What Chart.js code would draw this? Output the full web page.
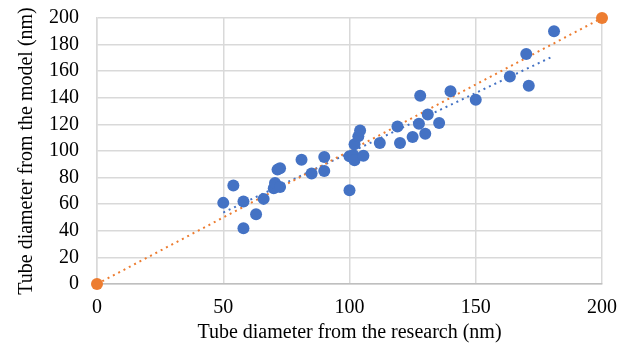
<!DOCTYPE html>
<html>
<head>
<meta charset="utf-8">
<script src="https://cdn.jsdelivr.net/npm/chart.js@4.4.1/dist/chart.umd.min.js"></script>
<style>
  html, body { margin: 0; padding: 0; background: #fff; }
  #wrap { width: 630px; height: 351px; }
</style>
</head>
<body>
<div id="wrap"><canvas id="chart"></canvas></div>
<script>
// tube diameter from the research (nm)
var researchD = [50, 54, 58, 58, 63, 66, 70, 70.5, 72.5, 71.5, 72.5, 81, 85, 90, 90,
  100, 100, 101.5, 102, 102, 103.5, 104.2, 105.5, 112, 119, 120, 125, 127.5, 128, 130,
  131, 135.5, 140, 150, 163.5, 170, 171, 181];
// tube diameter from the model (nm)
var modelD = [61, 74, 42, 62, 52.5, 64, 72, 76, 73, 86, 87, 93.5, 83, 95.5, 85,
  70.5, 96, 97, 93, 105, 111, 115.5, 96.5, 106, 118.5, 106, 110.5, 120.5, 141.5, 113,
  127.5, 121, 145, 138.5, 156, 173, 149, 190];

// reference line y = x
var refX = [0, 200];
var refY = [0, 200];

var xTicks = [0, 50, 100, 150, 200];
var yTicks = [0, 20, 40, 60, 80, 100, 120, 140, 160, 180, 200];

var blue = '#4472C4';
var orange = '#ED7D31';

// linear trendline of the measured points
function trend(xs, ys) {
    var n = xs.length, sx = 0, sy = 0, sxy = 0, sxx = 0;
    for (var i = 0; i < n; i++) {
        sx += xs[i]; sy += ys[i]; sxy += xs[i] * ys[i]; sxx += xs[i] * xs[i];
    }
    var b = (n * sxy - sx * sy) / (n * sxx - sx * sx);
    var a = (sy - b * sx) / n;
    var x0 = Math.min.apply(null, xs), x1 = Math.max.apply(null, xs);
    return [{ x: x0, y: a + b * x0 }, { x: x1, y: a + b * x1 }];
}

var points = researchD.map(function(v, i) { return { x: v, y: modelD[i] }; });
var refPoints = refX.map(function(v, i) { return { x: v, y: refY[i] }; });

var font = { family: '"Liberation Serif", "Times New Roman", serif', size: 20 };

new Chart(document.getElementById('chart'), {
    type: 'scatter',
    data: {
        datasets: [
            {
                label: 'Trend',
                data: trend(researchD, modelD),
                showLine: true,
                borderColor: blue,
                borderWidth: 2,
                borderDash: [2, 4],
                pointRadius: 0,
                order: 3
            },
            {
                label: 'y = x',
                data: refPoints,
                showLine: true,
                clip: false,
                borderColor: orange,
                backgroundColor: orange,
                borderWidth: 2,
                borderDash: [2, 4],
                pointRadius: 6,
                pointBorderWidth: 0,
                order: 2
            },
            {
                label: 'Data',
                data: points,
                backgroundColor: blue,
                borderColor: blue,
                pointRadius: 6,
                pointBorderWidth: 0,
                order: 1
            }
        ]
    },
    options: {
        responsive: true,
        maintainAspectRatio: false,
        animation: false,
        layout: { padding: { top: 18, right: 28, left: 0, bottom: 0 } },
        plugins: {
            legend: { display: false },
            tooltip: { enabled: false }
        },
        scales: {
            x: {
                type: 'linear',
                min: 0,
                max: 200,
                afterBuildTicks: function(scale) {
                    scale.ticks = xTicks.map(function(v) { return { value: v }; });
                },
                afterFit: function(scale) {
                    scale.height = 67;
                    scale.paddingLeft = 0;
                    scale.paddingRight = 0;
                },
                grid: { color: '#d9d9d9', lineWidth: 1.5, drawTicks: false },
                border: { color: '#bfbfbf', width: 1.5 },
                ticks: { color: '#000', font: font, padding: 12, maxRotation: 0, autoSkip: false },
                title: {
                    display: true,
                    text: 'Tube diameter from the research (nm)',
                    color: '#000',
                    font: font,
                    padding: { top: 0, bottom: 6 }
                }
            },
            y: {
                type: 'linear',
                min: 0,
                max: 200,
                afterBuildTicks: function(scale) {
                    scale.ticks = yTicks.map(function(v) { return { value: v }; });
                },
                afterFit: function(scale) {
                    scale.width = 97;
                    scale.paddingTop = 0;
                    scale.paddingBottom = 0;
                },
                grid: { color: '#d9d9d9', lineWidth: 1.5, drawTicks: false },
                border: { color: '#d9d9d9', width: 1.5 },
                ticks: { color: '#000', font: font, padding: 18, autoSkip: false },
                title: {
                    display: true,
                    text: 'Tube diameter from the model (nm)',
                    color: '#000',
                    font: font,
                    padding: { top: 15, bottom: 0 }
                }
            }
        }
    }
});
</script>
</body>
</html>
